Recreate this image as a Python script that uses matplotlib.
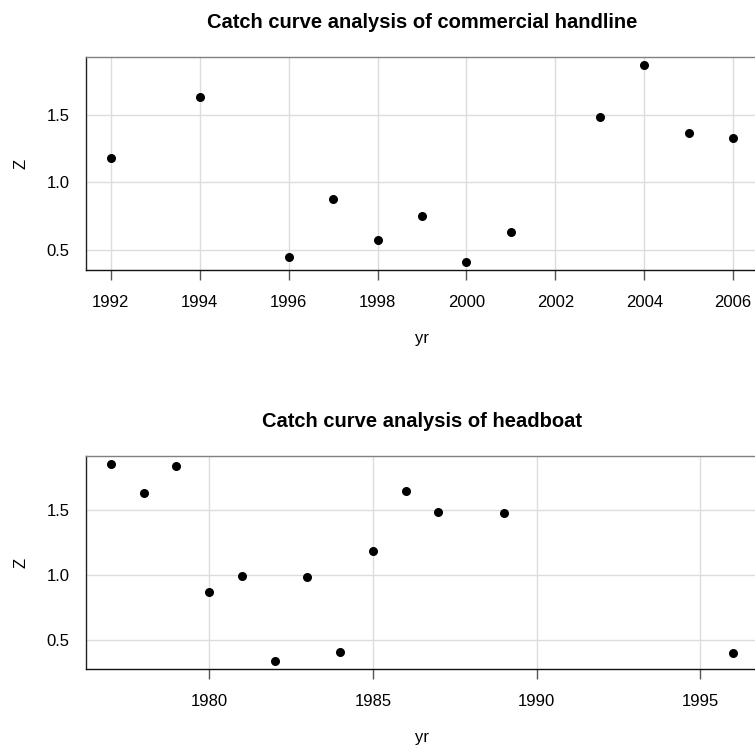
import matplotlib
matplotlib.use("Agg")
import matplotlib.pyplot as plt

plt.rcParams['font.family'] = ['Liberation Sans', 'DejaVu Sans']

# commercial handline
yr_handline = [1992, 1994, 1996, 1997, 1998, 1999, 2000, 2001, 2003, 2004, 2005, 2006]
z_handline = [1.18, 1.63, 0.45, 0.874, 0.574, 0.754, 0.409, 0.633, 1.483, 1.87, 1.367, 1.33]

# headboat
yr_headboat = [1977, 1978, 1979, 1980, 1981, 1982, 1983, 1984, 1985, 1986, 1987, 1989, 1996]
z_headboat = [1.859, 1.638, 1.846, 0.869, 0.997, 0.336, 0.985, 0.405, 1.187, 1.651, 1.49, 1.482, 0.397]

xticks_top = [1992, 1994, 1996, 1998, 2000, 2002, 2004, 2006]
xticks_bot = [1980, 1985, 1990, 1995]
yticks = [0.5, 1.0, 1.5]

fig = plt.figure(figsize=(7.55, 7.53), dpi=100)
ax1 = fig.add_axes([86 / 755, (753 - 270) / 753, (758 - 86) / 755, 213 / 753])
ax2 = fig.add_axes([86 / 755, (753 - 669.3) / 753, (758 - 86) / 755, 213.3 / 753])

panels = [
    (ax1, yr_handline, z_handline, xticks_top, "Catch curve analysis of commercial handline"),
    (ax2, yr_headboat, z_headboat, xticks_bot, "Catch curve analysis of headboat"),
]

for ax, x, y, xt, title in panels:
    # R-style 4% padding on both axes
    xr = max(x) - min(x)
    yrng = max(y) - min(y)
    ax.set_xlim(min(x) - 0.04 * xr, max(x) + 0.04 * xr)
    ax.set_ylim(min(y) - 0.04 * yrng, max(y) + 0.04 * yrng)
    ax.set_xticks(xt)
    ax.set_yticks(yticks)
    ax.set_yticklabels(["0.5", "1.0", "1.5"])
    ax.grid(True, color="#dcdcdc", linewidth=1.0)
    ax.set_axisbelow(True)
    ax.scatter(x, y, s=30, color="black", zorder=3, clip_on=False)
    ax.spines["right"].set_visible(False)
    ax.spines["top"].set_color("#808080")
    ax.spines["left"].set_color("#222222")
    ax.spines["bottom"].set_color("#111111")
    for s in ax.spines.values():
        s.set_linewidth(1.0)
    ax.tick_params(axis="x", length=7, width=1, color="#555555", pad=11, labelsize=12)
    ax.tick_params(axis="y", length=0, pad=12, labelsize=12)
    ax.set_xlabel("yr", fontsize=12, labelpad=15)
    ax.set_ylabel("Z", fontsize=12, labelpad=13)
    ax.set_title(title, fontsize=14.5, fontweight="bold", pad=21)

fig.savefig("out.png", dpi=100)
